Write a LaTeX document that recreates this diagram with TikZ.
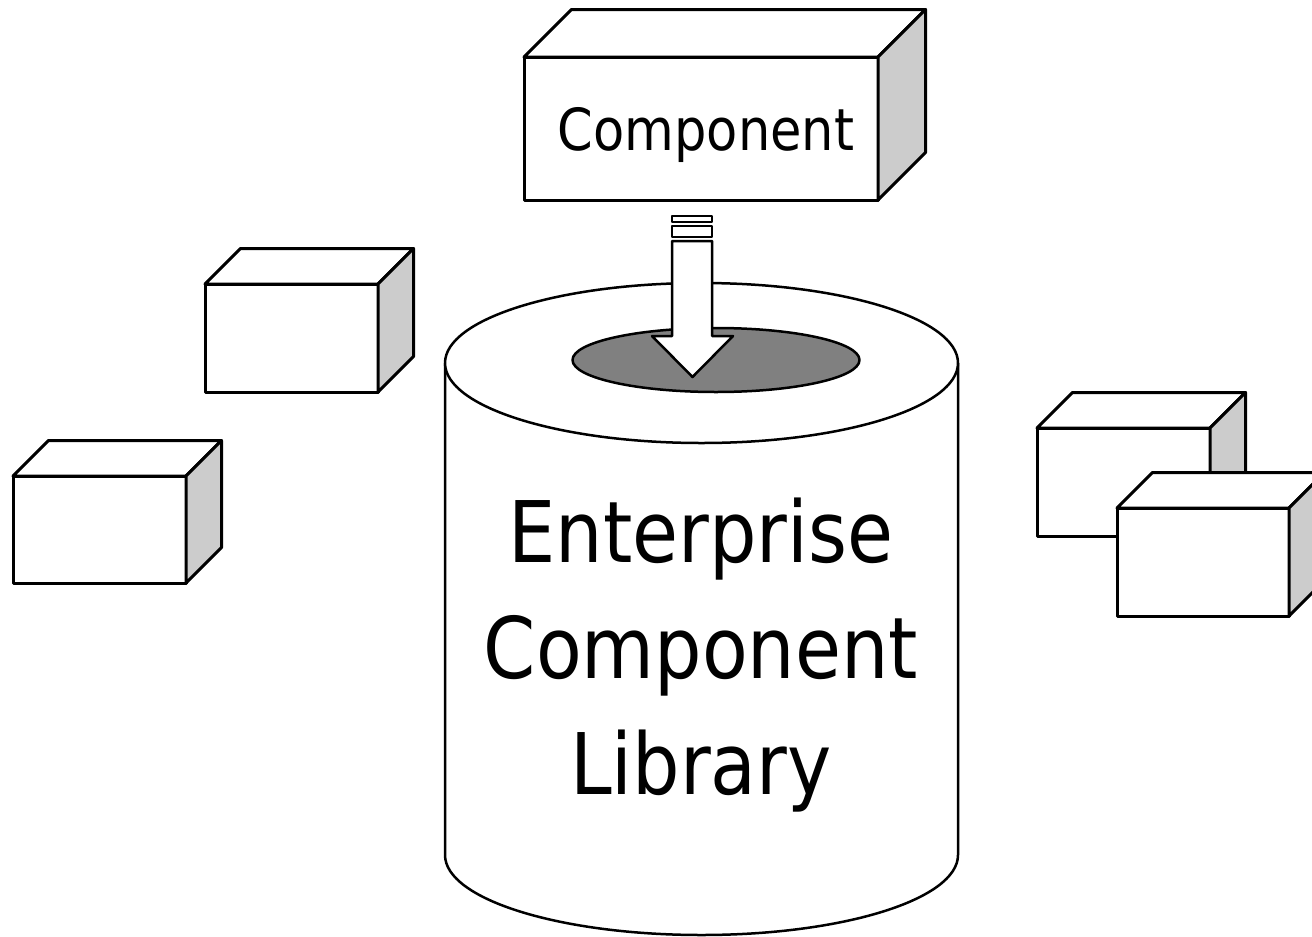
\documentclass[tikz,border=0pt]{standalone}
\usepackage{fontspec}
\setmainfont[FakeStretch=0.88]{DejaVu Sans}
\usepackage{tikz}

\begin{document}
\begin{tikzpicture}
          [x=1pt,y=-1pt,line join=round,
           face/.style={draw,fill=white,line width=3pt},
           side/.style={draw,fill=black!20,line width=3pt},
           drum/.style={draw,fill=white,line width=2.5pt},
           label text/.style={inner sep=0pt,font=\fontsize{85}{116}\selectfont,align=center}]

          \useasboundingbox (0,0) rectangle (1312,937);

          % boxes: front corners and depth
          \foreach \xa/\ya/\xb/\yb/\d in {205/284/378/392/35.5, 13/476/186/583/35.5,
              1037/428/1210/536/35.5, 1117/508/1289/616/35.5, 524/57/878/200/47.5}
          {
            \draw[face] (\xa,\ya) rectangle (\xb,\yb);
            \draw[face] (\xa,\ya) -- ({\xa+\d},{\ya-\d}) -- ({\xb+\d},{\ya-\d}) -- (\xb,\ya) -- cycle;
            \draw[side] (\xb,\ya) -- ({\xb+\d},{\ya-\d}) -- ({\xb+\d},{\yb-\d}) -- (\xb,\yb) -- cycle;
          }

          \node[inner sep=0pt,anchor=base,font=\fontsize{58}{60}\selectfont] (comp) at (706,150) {Component};

          % library drum
          \draw[drum] (445,363) -- (445,855) arc[start angle=180,end angle=0,x radius=256.5,y radius=80] -- (958,363);
          \draw[drum] (701.5,363) ellipse [x radius=256.5,y radius=80];
          \draw[line width=2.5pt,fill=black!50] (716,360) ellipse [x radius=143.5,y radius=32];

          \node[label text] (lib) at (701,655) {Enterprise\\Component\\Library};

          % arrow into the drum
          \draw[line width=2.5pt,fill=white] (672,216) rectangle (712,222);
          \draw[line width=2.5pt,fill=white] (672,226) rectangle (712,237);
          \draw[line width=2.5pt,fill=white] (672,241) -- (712,241) -- (712,336) -- (733,336)
            -- (692.5,377) -- (652,336) -- (672,336) -- cycle;
        \end{tikzpicture}
\end{document}
